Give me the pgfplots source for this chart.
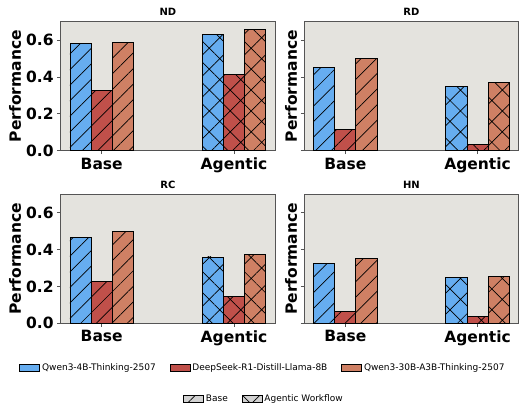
\documentclass[border=0pt]{standalone}
\usepackage{fontspec}
\setmainfont{DejaVu Sans}
\usepackage{pgfplots}
\pgfplotsset{compat=1.18}
\usetikzlibrary{patterns.meta}
\definecolor{cblue}{RGB}{102,173,240}
\definecolor{cred}{RGB}{192,80,74}
\definecolor{corange}{RGB}{207,128,100}
\definecolor{bgc}{RGB}{228,227,222}
\definecolor{spine}{RGB}{85,85,85}
\definecolor{lgray}{RGB}{210,210,210}
\tikzset{
 hbase/.style={postaction={pattern={Lines[angle=45,distance=11pt,line width=0.7pt]}}},
 hag/.style={postaction={pattern={Hatch[angle=45,distance=14.8pt,line width=0.7pt]}}},
}
\pgfplotsset{
 panel/.style={
  scale only axis, width=214.3pt, height=129pt, anchor=south west,
  xmin=-0.31,xmax=1.31,ymin=0,ymax=0.7,
  axis background/.style={fill=bgc},
  axis line style={draw=spine,line width=1pt},
  xtick={0,1}, xticklabels={Base,Agentic},
  ytick={0,0.2,0.4,0.6},
  tick pos=left, tick align=outside,
  major tick length=3.5pt,
  tick style={draw=spine,line width=0.8pt},
  /pgf/number format/assume math mode=true,
  yticklabel style={/pgf/number format/fixed,/pgf/number format/fixed zerofill,/pgf/number format/precision=1},
  ticklabel style={font=\bfseries\fontsize{15.5}{18}\selectfont},
  ylabel={Performance},
  ylabel style={font=\bfseries\fontsize{15.5}{18}\selectfont, anchor=center},
  title style={font=\bfseries\fontsize{10}{12}\selectfont, at={(axis description cs:0.5,1)}, anchor=center, yshift=3.5pt},
  bar width=0.16,
 },
 bb/.style={ybar, bar shift=#1, draw=black, line width=0.8pt},
}
\begin{document}
\begin{tikzpicture}
\useasboundingbox (0pt,0pt) rectangle (519pt,404pt);
% ND
\begin{axis}[panel, at={(60.7pt,253.3pt)}, title={ND}, ylabel style={at={(axis description cs:-0.213,0.5)}}]
\addplot[bb=-0.16, fill=cblue, hbase] coordinates {(0,0.584)};
\addplot[bb=0, fill=cred, hbase] coordinates {(0,0.326)};
\addplot[bb=0.16, fill=corange, hbase] coordinates {(0,0.589)};
\addplot[bb=-0.16, fill=cblue, hag] coordinates {(1,0.629)};
\addplot[bb=0, fill=cred, hag] coordinates {(1,0.415)};
\addplot[bb=0.16, fill=corange, hag] coordinates {(1,0.660)};
\end{axis}
% RD
\begin{axis}[panel, at={(304.3pt,253.3pt)}, title={RD}, yticklabels={\empty,\empty,\empty,\empty}, ylabel style={at={(axis description cs:-0.062,0.5)}}]
\addplot[bb=-0.16, fill=cblue, hbase] coordinates {(0,0.453)};
\addplot[bb=0, fill=cred, hbase] coordinates {(0,0.116)};
\addplot[bb=0.16, fill=corange, hbase] coordinates {(0,0.500)};
\addplot[bb=-0.16, fill=cblue, hag] coordinates {(1,0.350)};
\addplot[bb=0, fill=cred, hag] coordinates {(1,0.036)};
\addplot[bb=0.16, fill=corange, hag] coordinates {(1,0.372)};
\end{axis}
% RC
\begin{axis}[panel, at={(60.7pt,80.7pt)}, title={RC}, ylabel style={at={(axis description cs:-0.213,0.5)}}]
\addplot[bb=-0.16, fill=cblue, hbase] coordinates {(0,0.465)};
\addplot[bb=0, fill=cred, hbase] coordinates {(0,0.227)};
\addplot[bb=0.16, fill=corange, hbase] coordinates {(0,0.496)};
\addplot[bb=-0.16, fill=cblue, hag] coordinates {(1,0.360)};
\addplot[bb=0, fill=cred, hag] coordinates {(1,0.147)};
\addplot[bb=0.16, fill=corange, hag] coordinates {(1,0.373)};
\end{axis}
% HN
\begin{axis}[panel, at={(304.3pt,80.7pt)}, title={HN}, yticklabels={\empty,\empty,\empty,\empty}, ylabel style={at={(axis description cs:-0.062,0.5)}}]
\addplot[bb=-0.16, fill=cblue, hbase] coordinates {(0,0.327)};
\addplot[bb=0, fill=cred, hbase] coordinates {(0,0.062)};
\addplot[bb=0.16, fill=corange, hbase] coordinates {(0,0.351)};
\addplot[bb=-0.16, fill=cblue, hag] coordinates {(1,0.247)};
\addplot[bb=0, fill=cred, hag] coordinates {(1,0.035)};
\addplot[bb=0.16, fill=corange, hag] coordinates {(1,0.256)};
\end{axis}
% legend 1
\begin{axis}[hide axis, scale only axis, width=1pt, height=1pt, xmin=0,xmax=1,ymin=0,ymax=1,
  at={(263pt,36pt)}, anchor=center,
  legend style={at={(0.5,0.5)}, anchor=center, draw=none, fill=none, font=\fontsize{9}{11}\selectfont,
    legend columns=3, /tikz/every even column/.append style={column sep=12pt}},
  legend image code/.code={\draw[#1] (0pt,-3.3pt) rectangle (20pt,3.3pt);}]
\addlegendimage{fill=cblue,draw=black,line width=0.6pt}
\addlegendentry{Qwen3-4B-Thinking-2507}
\addlegendimage{fill=cred,draw=black,line width=0.6pt}
\addlegendentry{DeepSeek-R1-Distill-Llama-8B}
\addlegendimage{fill=corange,draw=black,line width=0.6pt}
\addlegendentry{Qwen3-30B-A3B-Thinking-2507}
\end{axis}
% legend 2
\begin{axis}[hide axis, scale only axis, width=1pt, height=1pt, xmin=0,xmax=1,ymin=0,ymax=1,
  at={(264pt,5pt)}, anchor=center,
  legend style={at={(0.5,0.5)}, anchor=center, draw=none, fill=none, font=\fontsize{9}{11}\selectfont,
    legend columns=2, /tikz/every even column/.append style={column sep=12pt}},
  legend image code/.code={\draw[#1] (0pt,-3.3pt) rectangle (20pt,3.3pt);}]
\addlegendimage{fill=lgray,draw=black,line width=0.6pt,hbase}
\addlegendentry{Base}
\addlegendimage{fill=lgray,draw=black,line width=0.6pt,hag}
\addlegendentry{Agentic Workflow}
\end{axis}
\end{tikzpicture}
\end{document}
